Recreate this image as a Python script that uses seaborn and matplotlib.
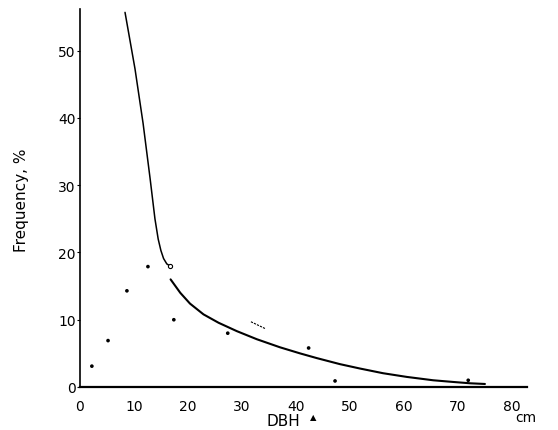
import numpy as np
import pandas as pd
import seaborn as sns
from matplotlib import pyplot as plt

sns.set_style("white")
plt.rcParams["font.family"] = ["DejaVu Sans"]
plt.rcParams["text.color"] = "k"
plt.rcParams["xtick.color"] = "k"
plt.rcParams["ytick.color"] = "k"

# fitted curve, upper part (small trees)
upper_dbh = [8.35, 10.2, 11.7, 13.0, 13.9, 14.5, 15.0, 15.5, 16.1, 16.7]
upper_freq = [55.7, 47.3, 39.2, 31.0, 25.0, 22.0, 20.3, 19.1, 18.3, 18.0]

# fitted curve, lower part
lower_dbh = [16.8, 18.6, 20.4, 22.9, 25.7, 29.1, 32.8, 37.1, 40.8, 43.9,
             48.2, 51.9, 56.2, 60.6, 65.5, 69.2, 72.4, 75.1]
lower_freq = [16.0, 14.0, 12.4, 10.8, 9.55, 8.3, 7.1, 5.9, 5.0, 4.3,
              3.4, 2.75, 2.05, 1.5, 1.0, 0.75, 0.55, 0.45]

# observed points
obs_dbh = [2.2, 5.2, 8.7, 12.6, 17.4, 27.4, 42.4, 47.3, 72.0]
obs_freq = [3.1, 6.9, 14.3, 17.9, 10.0, 8.0, 5.8, 0.9, 1.0]

# short stray stroke
stroke_dbh = [31.7, 34.3]
stroke_freq = [9.7, 8.7]

x_ticks = [0, 10, 20, 30, 40, 50, 60, 70, 80]
y_ticks = [0, 10, 20, 30, 40, 50]

fig = plt.figure(figsize=(5.58, 4.31), dpi=100)
ax = fig.add_axes([80 / 558, 1 - 388 / 431, (527 - 80) / 558, (388 - 10) / 431])

upper = pd.DataFrame({"dbh": upper_dbh, "freq": upper_freq})
lower = pd.DataFrame({"dbh": lower_dbh, "freq": lower_freq})
obs = pd.DataFrame({"dbh": obs_dbh, "freq": obs_freq})
stroke = pd.DataFrame({"dbh": stroke_dbh, "freq": stroke_freq})

sns.lineplot(data=upper, x="dbh", y="freq", sort=False, color="k", lw=1.1,
             solid_joinstyle="round", ax=ax)
sns.lineplot(data=lower, x="dbh", y="freq", sort=False, color="k", lw=1.5,
             solid_joinstyle="round", ax=ax)
sns.lineplot(data=stroke, x="dbh", y="freq", sort=False, color="k", lw=0.8,
             ls=(0, (2, 1)), ax=ax)
sns.scatterplot(data=obs, x="dbh", y="freq", color="k", s=7, marker="o",
                edgecolor="none", ax=ax)
ax.plot(upper_dbh[-1:], upper_freq[-1:], marker="o", ms=3, mfc="white",
        mec="k", mew=0.8, ls="none")

ax.set_xlim(0, 82.9)
ax.set_ylim(0, 56.2)
ax.set_xticks(x_ticks)
ax.set_yticks(y_ticks)
ax.set_xlabel("")
ax.set_ylabel("")
ax.tick_params(axis="y", direction="out", length=2, width=0.8, pad=1,
               labelsize=10, left=True)
ax.tick_params(axis="x", direction="out", length=0, pad=9, labelsize=10)

for side in ["top", "right"]:
    ax.spines[side].set_visible(False)
ax.spines["left"].set_linewidth(1.2)
ax.spines["bottom"].set_linewidth(1.6)
ax.spines["left"].set_color("k")
ax.spines["bottom"].set_color("k")

fig.text(283 / 558, 1 - 422 / 431, "DBH", fontsize=11, ha="center", va="center")
fig.text(313 / 558, 1 - 418 / 431, "\u25b2", fontsize=6, ha="center", va="center")
fig.text(526 / 558, 1 - 418 / 431, "cm", fontsize=10, ha="center", va="center")
fig.text(22 / 558, 1 - 200 / 431, "Frequency, %", fontsize=11, rotation=90,
         ha="center", va="center")

fig.savefig("out.png", dpi=100)
